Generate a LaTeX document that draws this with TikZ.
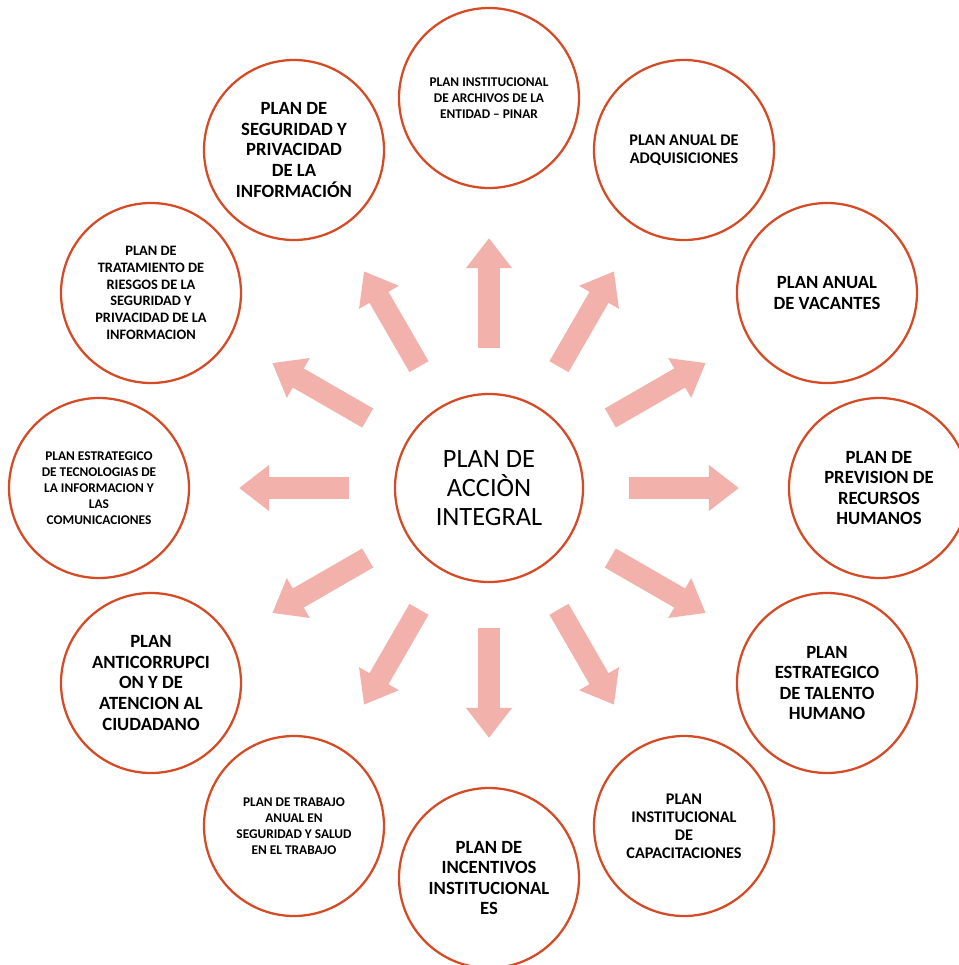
\documentclass[tikz,border=0pt]{standalone}
\usepackage{fontspec}
\setmainfont{Carlito}
\usetikzlibrary{arrows.meta}
\definecolor{borde}{RGB}{212,75,38}
\definecolor{flechapink}{RGB}{242,177,170}
\begin{document}
\begin{tikzpicture}[x=0.75pt, y=-0.75pt]
    % Stili
    \tikzstyle{plan}=[circle, draw=borde, line width=1.7pt, fill=white, minimum size=135pt, inner sep=0pt, align=center, text=black]
    \tikzstyle{grande}=[font=\bfseries\fontsize{14}{15.4}\selectfont]
    \tikzstyle{medio}=[font=\bfseries\fontsize{12.2}{13.5}\selectfont]
    \tikzstyle{chico}=[font=\bfseries\fontsize{10}{12}\selectfont]
    \tikzstyle{flecha}=[-{Triangle[width=33pt, length=22.5pt]}, line width=16.5pt, draw=flechapink, shorten <=33.7pt, shorten >=36.7pt]
    \useasboundingbox (0,0) rectangle (959,965);

    % Centro
    \node[plan, minimum size=141pt, font=\fontsize{19.8}{21.8}\selectfont] (centro) at (489,488) {PLAN DE\\ACCIÒN\\INTEGRAL};

    % Planes alrededor
    \node[plan, chico] (pinar) at (489,98) {PLAN INSTITUCIONAL\\DE ARCHIVOS DE LA\\ENTIDAD – PINAR};
    \node[plan, medio] (adquisiciones) at (684,150) {PLAN ANUAL DE\\ADQUISICIONES};
    \node[plan, grande] (vacantes) at (827,293) {PLAN ANUAL\\DE VACANTES};
    \node[plan, grande] (prevision) at (879,488) {PLAN DE\\PREVISION DE\\RECURSOS\\HUMANOS};
    \node[plan, grande] (talento) at (827,683) {PLAN\\ESTRATEGICO\\DE TALENTO\\HUMANO};
    \node[plan, medio] (capacitaciones) at (684,826) {PLAN\\INSTITUCIONAL\\DE\\CAPACITACIONES};
    \node[plan, grande] (incentivos) at (489,878) {PLAN DE\\INCENTIVOS\\INSTITUCIONAL\\ES};
    \node[plan, chico] (trabajo) at (294,826) {PLAN DE TRABAJO\\ANUAL EN\\SEGURIDAD Y SALUD\\EN EL TRABAJO};
    \node[plan, grande] (anticorrupcion) at (151,683) {PLAN\\ANTICORRUPCI\\ON Y DE\\ATENCION AL\\CIUDADANO};
    \node[plan, chico] (tecnologias) at (99,488) {PLAN ESTRATEGICO\\DE TECNOLOGIAS DE\\LA INFORMACION Y\\LAS\\COMUNICACIONES};
    \node[plan, chico, font=\bfseries\fontsize{10.8}{12.5}\selectfont] (riesgos) at (151,293) {PLAN DE\\TRATAMIENTO DE\\RIESGOS DE LA\\SEGURIDAD Y\\PRIVACIDAD DE LA\\INFORMACION};
    \node[plan, grande] (seguridad) at (294,150) {PLAN DE\\SEGURIDAD Y\\PRIVACIDAD\\DE LA\\INFORMACIÓN};

    % Flechas
    \foreach \destino in {pinar, adquisiciones, vacantes, prevision, talento, capacitaciones, incentivos, trabajo, anticorrupcion, tecnologias, riesgos, seguridad}
        \draw[flecha] (centro) -- (\destino);
\end{tikzpicture}
\end{document}
